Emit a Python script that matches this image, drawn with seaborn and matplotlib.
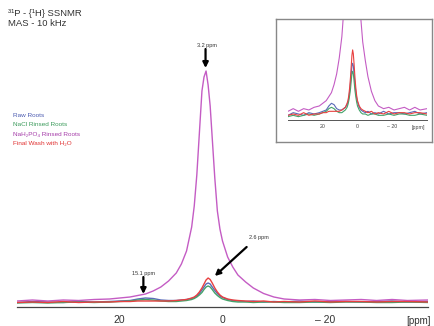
import matplotlib
matplotlib.use("Agg")
import matplotlib.pyplot as plt
import seaborn as sns
import pandas as pd

# ---------------- data ----------------
ppm = [40, 37, 34, 31, 28, 25, 22, 20, 18, 16.5, 15, 13.5, 12, 10.5, 9, 8, 7, 6,
       5.5, 5, 4.5, 4, 3.6, 3.2, 2.8, 2.4, 2, 1.5, 1, 0.5, 0, -1, -2, -3, -4.5,
       -6, -8, -10, -12, -15, -18, -21, -24, -27, -30, -33, -36, -40]

raw_roots = [0.5, 1.5, 1, 0.5, 1.5, 1, 1.5, 2, 2.5, 4, 5, 4.5, 3, 2.5, 2.5, 3, 3.5, 4.5,
             5.5, 7, 9.5, 13, 16, 19, 20, 19, 16, 12.5, 9.5, 7, 5.5, 3.5, 2.5, 2, 1.5,
             2, 1, 1.5, 1, 2, 1, 1.5, 1.5, 1, 1.5, 2, 1, 1.5]

nacl_rinsed = [0, 0.5, 0, 0.5, 1, 0.5, 1, 1.5, 2, 3, 3.5, 3, 2, 1.5, 1.5, 2, 2.5, 3.5,
               4.5, 6, 8, 10.5, 13.5, 16, 17, 16, 13.5, 10, 7.5, 5.5, 4, 2.5, 1.5, 1, 1,
               0.5, 1, 1, 0.5, 0.5, 1, 0.5, 1, 1, 0.5, 0.5, 1, 0.5]

nah2po4_rinsed = [2, 3, 2, 3, 2.5, 3.5, 4, 5, 6, 7.5, 9, 12, 16, 22, 30, 39, 52, 76,
                  97, 128, 170, 212, 226, 232, 218, 197, 165, 125, 92, 74, 62, 46, 36, 28, 21,
                  15, 9.5, 6, 4, 3, 3.5, 2.5, 3, 3.5, 2.5, 3.5, 2.5, 3]

final_wash = [0.5, 1, 0.5, 1.5, 0.5, 1, 1, 1.5, 1.5, 2, 2, 2, 2, 2, 2.5, 3, 3.5, 5,
              6, 8, 11, 15, 19, 23, 25, 23.5, 20, 15, 11, 8, 6, 4, 3, 2.5, 2,
              1.5, 2, 1, 1.5, 1, 2, 1, 1.5, 1.5, 1, 1.5, 1.5, 1]

samples = ["Raw Roots", "NaCl Rinsed Roots", "NaH\u2082PO\u2084 Rinsed Roots",
           "Final Wash with H\u2082O"]
colors = ["#5a6ab8", "#45a36a", "#c45cc4", "#e84040"]
text_colors = ["#4a5ab0", "#3a9a5a", "#a43aa8", "#e03030"]

tick_positions = [40, 35, 30, 25, 20, 15, 10, 5, 0, -5, -10, -15, -20, -25, -30, -35, -40]
tick_labels = ["", "", "", "", "20", "", "", "", "0", "", "", "", "\u2013 20", "", "", "", ""]

title_lines = ["\u00b3\u00b9P - {\u00b9H} SSNMR", "MAS - 10 kHz"]
peak_labels = ["3.2 ppm", "2.6 ppm", "15.1 ppm"]

df = pd.DataFrame({
    "ppm": ppm * 4,
    "intensity": raw_roots + nacl_rinsed + nah2po4_rinsed + final_wash,
    "sample": sum([[s] * len(ppm) for s in samples], []),
})

# ---------------- figure ----------------
sns.set_style("white")
plt.rcParams["font.family"] = ["Liberation Sans", "DejaVu Sans"]

W, H = 435, 326
fig = plt.figure(figsize=(W / 100, H / 100), dpi=100)
fig.patch.set_facecolor("white")


def fx(x):
    return x / W


def fy(y):
    return 1 - y / H


palette = dict(zip(samples, colors))

# main axes
ax = fig.add_axes([fx(17), fy(307), fx(428) - fx(17), fy(20) - fy(307)])
sns.lineplot(data=df, x="ppm", y="intensity", hue="sample", hue_order=samples,
             palette=palette, estimator=None, legend=False, lw=1.0, ax=ax)
ax.set_xlim(40, -40)
ax.set_ylim(-4, 283)
ax.set_xlabel("")
ax.set_ylabel("")
ax.set_yticks([])
for s in ["top", "left", "right"]:
    ax.spines[s].set_visible(False)
ax.spines["bottom"].set_color("#444444")
ax.spines["bottom"].set_linewidth(0.9)
ax.set_xticks(tick_positions)
ax.set_xticklabels(tick_labels)
ax.tick_params(axis="x", direction="out", length=3, width=0.8, color="#444444",
               labelsize=7.5, labelcolor="#333333", pad=3)
ax.set_facecolor("none")
fig.text(fx(419), fy(321), "[ppm]", fontsize=7, color="#333333", ha="center", va="center")

# annotations
arrow_kw = dict(arrowstyle="-|>", lw=1.6, color="black", mutation_scale=8, shrinkA=0, shrinkB=0)
ax.annotate("", xy=(3.3, 235), xytext=(3.3, 254), arrowprops=arrow_kw)
ax.text(3.0, 255, peak_labels[0], fontsize=4, ha="center", va="bottom", color="#333333")
ax.annotate("", xy=(1.5, 27), xytext=(-4.7, 56), arrowprops=arrow_kw)
ax.text(-7.1, 66, peak_labels[1], fontsize=4, ha="center", va="center", color="#333333")
ax.annotate("", xy=(15.4, 9), xytext=(15.4, 26), arrowprops=arrow_kw)
ax.text(15.4, 29, peak_labels[2], fontsize=4, ha="center", va="center", color="#333333")

# title
fig.text(fx(8), fy(13), title_lines[0], fontsize=6.8, color="#333333", va="center")
fig.text(fx(8), fy(23), title_lines[1], fontsize=6.8, color="#333333", va="center")

# legend texts
for i, (s, c) in enumerate(zip(samples, text_colors)):
    fig.text(fx(13), fy(116 + 9 * i), s, fontsize=4.6, color=c, va="center")

# inset frame
frame = fig.add_axes([fx(276), fy(142), fx(432) - fx(276), fy(19) - fy(142)])
frame.set_xticks([])
frame.set_yticks([])
for s in frame.spines.values():
    s.set_color("#888888")
    s.set_linewidth(1.0)
frame.set_facecolor("white")

# inset axes
ins = fig.add_axes([fx(288), fy(120), fx(427) - fx(288), fy(20) - fy(120)])
sns.lineplot(data=df, x="ppm", y="intensity", hue="sample", hue_order=samples,
             palette=palette, estimator=None, legend=False, lw=0.8, ax=ins)
ins.set_xlim(40, -40)
ins.set_ylim(-1.25, 36.2)
ins.set_xlabel("")
ins.set_ylabel("")
ins.set_yticks([])
for s in ["top", "left", "right"]:
    ins.spines[s].set_visible(False)
ins.spines["bottom"].set_color("#555555")
ins.spines["bottom"].set_linewidth(0.7)
ins.set_xticks(tick_positions)
ins.set_xticklabels(tick_labels)
ins.tick_params(axis="x", direction="out", length=1.5, width=0.6, color="#555555",
                labelsize=3.8, labelcolor="#444444", pad=1.5)
ins.set_facecolor("none")
fig.text(fx(418), fy(128), "[ppm]", fontsize=3.8, color="#444444", ha="center", va="center")

fig.savefig("out.png", dpi=100)
